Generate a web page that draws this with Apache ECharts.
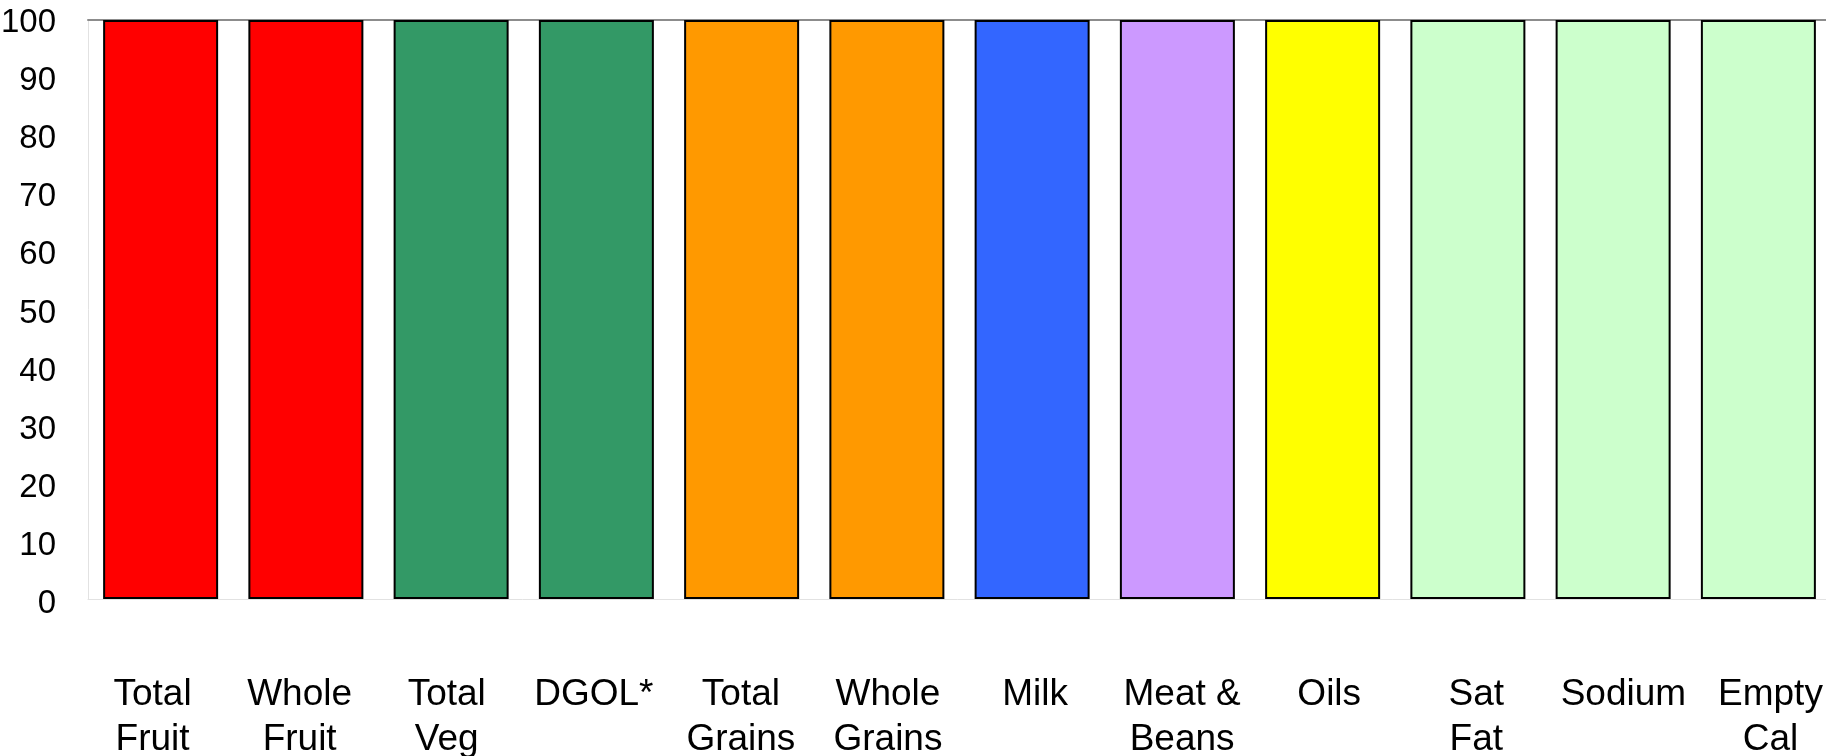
<!DOCTYPE html>
<html>
<head>
<meta charset="utf-8">
<script src="https://cdn.jsdelivr.net/npm/echarts@6/dist/echarts.min.js"></script>
<style>
html,body{margin:0;padding:0;background:#fff;}
#chart{width:1826px;height:756px;}
</style>
</head>
<body>
<div id="chart"></div>
<script>
const categories = ['Total\nFruit','Whole\nFruit','Total\nVeg','DGOL*','Total\nGrains','Whole\nGrains','Milk','Meat &\nBeans','Oils','Sat\nFat','Sodium','Empty\nCal'];
const values = [100,100,100,100,100,100,100,100,100,100,100,100];
const barColors = ['#FF0000','#FF0000','#339966','#339966','#FF9900','#FF9900','#3366FF','#CC99FF','#FFFF00','#CCFFCC','#CCFFCC','#CCFFCC'];
const yTicks = [0,10,20,30,40,50,60,70,80,90,100];

const font = 'Liberation Sans, Arial, sans-serif';
const chart = echarts.init(document.getElementById('chart'));
chart.setOption({
  animation: false,
  backgroundColor: '#fff',
  grid: [
    {left: 88, right: -5, top: 20, bottom: 157, containLabel: false, outerBoundsMode: 'none'},
    {left: 79, right: -18, top: 23, bottom: 152, containLabel: false, outerBoundsMode: 'none'}
  ],
  xAxis: [{
    type: 'category', gridIndex: 0,
    data: categories,
    position: 'bottom',
    axisLine: {show: true, lineStyle: {color: '#e2e2e2', width: 1}},
    axisTick: {show: false},
    axisLabel: {show: false}
  }, {
    type: 'category', gridIndex: 0,
    data: categories,
    position: 'top',
    axisLine: {show: true, lineStyle: {color: '#8c8c8c', width: 2}},
    axisTick: {show: false},
    axisLabel: {show: false}
  }, {
    type: 'category', gridIndex: 1,
    data: categories,
    position: 'bottom',
    axisLine: {show: false},
    axisTick: {show: false},
    axisLabel: {
      interval: 0, margin: 68, color: '#000',
      fontFamily: font, fontSize: 37, lineHeight: 45
    }
  }],
  yAxis: [{
    type: 'value', gridIndex: 0,
    min: yTicks[0], max: yTicks[yTicks.length-1], interval: 10,
    axisLine: {show: true, lineStyle: {color: '#e2e2e2', width: 1}},
    axisTick: {show: false},
    splitLine: {show: false},
    axisLabel: {show: false}
  }, {
    type: 'value', gridIndex: 1,
    min: yTicks[0], max: yTicks[yTicks.length-1], interval: 10,
    axisLine: {show: false},
    axisTick: {show: false},
    splitLine: {show: false},
    axisLabel: {margin: 23, color: '#000', fontFamily: font, fontSize: 33}
  }],
  series: [{
    type: 'bar', xAxisIndex: 0, yAxisIndex: 0,
    data: values.map((v, i) => ({value: v, itemStyle: {color: barColors[i]}})),
    barWidth: 115,
    itemStyle: {borderColor: '#000', borderWidth: 2}
  }]
});
</script>
</body>
</html>
